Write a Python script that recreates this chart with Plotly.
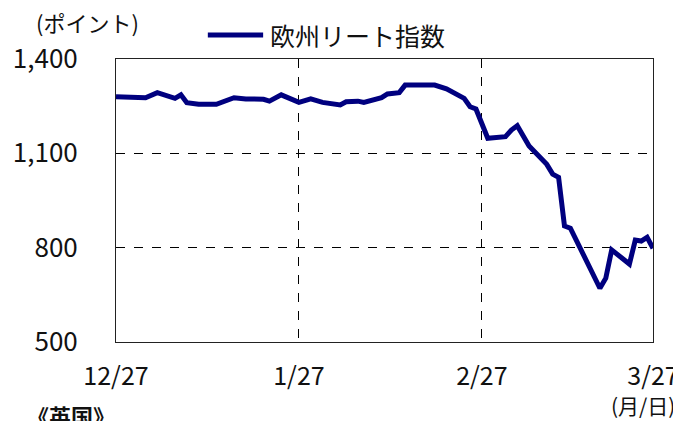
import plotly.graph_objects as go

dates = ["2019-12-27", "2020-01-01", "2020-01-03", "2020-01-06", "2020-01-07", "2020-01-08",
         "2020-01-10", "2020-01-13", "2020-01-16", "2020-01-18", "2020-01-21", "2020-01-22",
         "2020-01-24", "2020-01-27", "2020-01-29", "2020-01-31", "2020-02-03", "2020-02-04",
         "2020-02-06", "2020-02-07", "2020-02-10", "2020-02-11", "2020-02-13", "2020-02-14",
         "2020-02-19", "2020-02-20", "2020-02-21", "2020-02-24", "2020-02-25", "2020-02-26",
         "2020-02-28", "2020-03-02", "2020-03-03", "2020-03-04", "2020-03-06", "2020-03-09",
         "2020-03-10", "2020-03-11", "2020-03-12", "2020-03-13", "2020-03-16", "2020-03-18",
         "2020-03-19", "2020-03-20", "2020-03-23", "2020-03-24", "2020-03-25", "2020-03-26",
         "2020-03-27"]
reit_index = [1280, 1277, 1293, 1275, 1286, 1261,
              1256, 1256, 1277, 1273, 1272, 1266,
              1286, 1262, 1273, 1262, 1254, 1264,
              1266, 1262, 1277, 1289, 1293, 1317,
              1317, 1312, 1305, 1275, 1248, 1241,
              1148, 1153, 1174, 1188, 1123, 1065,
              1034, 1024, 869, 862, 750, 671,
              703, 793, 748, 824, 821, 833,
              798]

x_tickvals = ["2019-12-27", "2020-01-27", "2020-02-27", "2020-03-27"]
x_ticktext = ["12/27", "1/27", "2/27", "3/27"]
y_tickvals = [500, 800, 1100, 1400]
y_ticktext = ["500", "800", "1,100", "1,400"]
series_name = "欧州リート指数"

FONT = "Noto Sans CJK JP"
LINE_COLOR = "#00007f"

fig = go.Figure()
fig.add_trace(go.Scatter(x=dates, y=reit_index, mode="lines", name=series_name,
                         line=dict(color=LINE_COLOR, width=5), showlegend=False))

# page body has an 8px default margin, so the figure is sized to fit the window
fig.update_layout(
    width=673, height=413,
    margin=dict(l=108, r=28, t=51, b=79),
    paper_bgcolor="white", plot_bgcolor="white",
    font=dict(family=FONT, size=26, color="#111111"),
    xaxis=dict(
        type="date", range=[x_tickvals[0], x_tickvals[-1]],
        tickvals=x_tickvals, ticktext=x_ticktext, automargin=False,
        showgrid=True, gridcolor="#000000", gridwidth=1, griddash="dash",
        showline=True, linecolor="#222222", linewidth=1, mirror=True,
        ticks="", ticklabelstandoff=12, zeroline=False,
        tickfont=dict(family=FONT, size=25),
    ),
    yaxis=dict(
        range=[500, 1400], tickvals=y_tickvals, ticktext=y_ticktext, automargin=False,
        showgrid=True, gridcolor="#000000", gridwidth=1, griddash="dash",
        showline=True, linecolor="#222222", linewidth=1, mirror=True,
        ticks="", ticklabelstandoff=32, zeroline=False,
        tickfont=dict(family=FONT, size=26),
    ),
)

# legend drawn as a line sample plus label above the plot
fig.add_shape(type="line", xref="paper", yref="paper",
              x0=0.171, x1=0.274, y0=1.085, y1=1.085,
              line=dict(color=LINE_COLOR, width=5))
fig.add_annotation(text=series_name, xref="paper", yref="paper", x=0.283, y=1.085,
                   xanchor="left", yanchor="middle", showarrow=False,
                   font=dict(family=FONT, size=25, color="#111111"))
fig.add_annotation(text="(ポイント)", xref="paper", yref="paper", x=-0.153, y=1.13,
                   xanchor="left", yanchor="middle", showarrow=False,
                   font=dict(family=FONT, size=22, color="#111111"))
fig.add_annotation(text="(月/日)", xref="paper", yref="paper", x=1.045, y=-0.222,
                   xanchor="right", yanchor="middle", showarrow=False,
                   font=dict(family=FONT, size=21, color="#111111"))
fig.add_annotation(text="<b>《英国》</b>", xref="paper", yref="paper", x=-0.17, y=-0.258,
                   xanchor="left", yanchor="middle", showarrow=False,
                   font=dict(family=FONT, size=22, color="#111111"))

fig.write_html("out.html")
